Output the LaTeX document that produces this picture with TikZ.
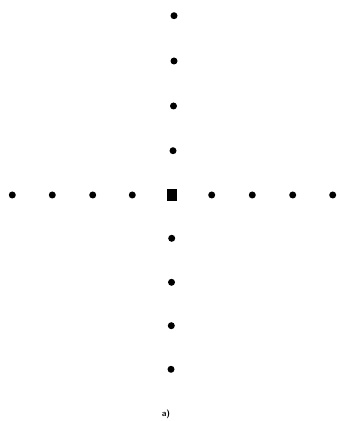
\documentclass[tikz,border=0pt]{standalone}
\usepackage{tikz}

\begin{document}
\begin{tikzpicture}[
    x=0.02cm, y=-0.02cm,
    every node/.style={font=\sffamily\tiny\bfseries},
    point/.style={circle, fill=black, inner sep=0pt, minimum size=0.14cm},
    centre/.style={rectangle, fill=black, inner sep=0pt, minimum width=0.2cm, minimum height=0.24cm}
]
\useasboundingbox (0,0) rectangle (339,421);

% ===== Centre point =====
\node[centre] (c) at (171.5, 195) {};

% --- Horizontal row ---
\foreach \x [count=\i] in {12.3, 52.3, 92.7, 132.3, 211.7, 252.3, 292.7, 332.7}
    \node[point] (h\i) at (\x, 195) {};

% --- Vertical column ---
\foreach \y/\xx [count=\i] in {15.7/174, 61/174, 106/173.5, 150.7/173,
                               238.3/171.7, 282.3/171.5, 325.7/171.3, 369.3/171}
    \node[point] (v\i) at (\xx, \y) {};

% --- Caption ---
\node (cap) at (166, 414) {a)};

\end{tikzpicture}
\end{document}
